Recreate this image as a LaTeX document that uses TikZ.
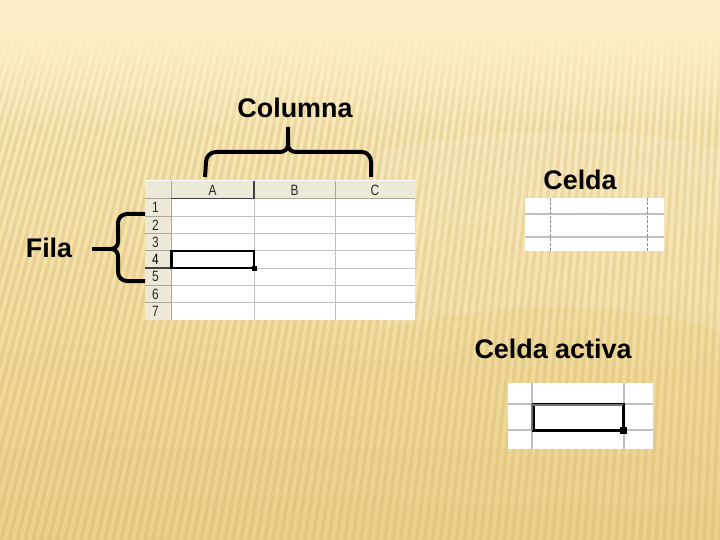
\documentclass[tikz,border=0pt]{standalone}
\usepackage{fontspec}
\setmainfont{Liberation Sans}
\definecolor{bgtop}{HTML}{FCF0C8}
\definecolor{bgmid}{HTML}{F6E2A8}
\definecolor{bgbot}{HTML}{ECD089}
\definecolor{stripec}{HTML}{D5B76A}
\definecolor{hdr}{HTML}{ECE9D8}
\definecolor{hdrline}{HTML}{ACA899}
\definecolor{gridc}{HTML}{C0C0C0}
\definecolor{txtc}{HTML}{2A2A2A}
\tikzset{
  lbl/.style={font=\fontsize{27}{30}\selectfont\bfseries, text=black, inner sep=0pt},
  hdrtxt/.style={font=\fontsize{15}{16}\selectfont, text=txtc, inner sep=0pt, xscale=0.8},
  bracepath/.style={line width=4bp, black, line cap=butt, line join=round},
  gridline/.style={gridc, line width=1bp},
  hline/.style={hdrline, line width=1bp},
  stripe/.style={stripec, line width=3.5bp, opacity=0.36}
}
\begin{document}
\begin{tikzpicture}[x=1bp, y=-1bp]
\useasboundingbox (0,0) rectangle (720,540);
% background
\shade[top color=bgtop, middle color=bgmid, bottom color=bgbot] (0,0) rectangle (720,540);
\begin{scope}
\clip (0,0) rectangle (720,540);
\foreach \i in {-20,...,100} {
  \draw[stripe] ({\i*8}, 545) -- ({\i*8*0.85+130}, 25);
}
\end{scope}
\fill[bgtop] (0,0) rectangle (720,30);
\foreach \k in {0,...,24} {
  \fill[bgtop, opacity={1-\k/25}] (0,{30+4*\k}) rectangle (720,{34+4*\k});
}
% soft lighter sweep on the right
\fill[white, opacity=0.10] (380,150) .. controls (520,120) and (650,130) .. (720,150) -- (720,330) .. controls (620,300) and (500,300) .. (380,330) -- cycle;

% ---------- spreadsheet ----------
\fill[white] (171,199) rectangle (415,320);
\fill[hdr] (145,180) rectangle (415,199);
\fill[hdr] (145,199) rectangle (171,320);
% grid lines in cells
\foreach \y in {216.3,233.6,250.9,268.1,285.4,302.7} {
  \draw[gridline] (171,\y) -- (415,\y);
  \draw[hline] (145,\y) -- (171,\y);
}
\foreach \x in {254,335} {
  \draw[gridline] (\x,199) -- (\x,320);
  \draw[hline] (\x,181) -- (\x,199);
}
\draw[hline] (171,181) -- (171,320);
\draw[hline] (145,199) -- (415,199);
\draw[white, line width=1bp] (145,180.5) -- (415,180.5);
% active column/row header marks
\draw[black!75, line width=1.6bp] (171,198.5) -- (254,198.5);
\draw[black!75, line width=1.2bp] (254,181) -- (254,199);
\draw[black!75, line width=1.6bp] (145,268.1) -- (171,268.1);
% header texts
\node[hdrtxt] (hA) at (212.5,190) {A};
\node[hdrtxt] (hB) at (294.5,190) {B};
\node[hdrtxt] (hC) at (375,190) {C};
\foreach \n/\y in {1/207.6,2/225,3/242.2,5/276.8,6/294,7/311.4} {
  \node[hdrtxt] (r\n) at (155.5,\y) {\n};
}
\node[hdrtxt, text=black] (r4) at (155.5,259.5) {4};
% active cell
\draw[black, line width=2.5bp] (171.5,251.2) rectangle (254,268.1);
\fill[black] (251.5,265.6) rectangle (256.5,270.6);

% ---------- labels ----------
\node[lbl] (columna) at (295,108) {Columna};
\node[lbl] (fila) at (49,248) {Fila};
\node[lbl] (celda) at (580,180) {Celda};
\node[lbl] (activa) at (553,349) {Celda activa};

% column brace
\coordinate (ctip) at (288,127);
\coordinate (cjoin) at (288,145);
\draw[bracepath] (ctip) -- (cjoin) to[out=-90,in=0] (280,152) -- (216,152) to[out=180,in=90] (206,162) -- (205,177);
\draw[bracepath] (cjoin) to[out=-90,in=180] (296,152) -- (362,152) to[out=0,in=90] (371,162) -- (371,177);

% row brace
\coordinate (ftip) at (111,249);
\coordinate (fdash) at (92,249);
\draw[bracepath] (145,214) -- (127,214) to[out=180,in=90] (118,223) -- (118,242) to[out=-90,in=0] (ftip) to[out=0,in=90] (118,256) -- (118,272) to[out=-90,in=180] (127,281) -- (145,281);
\draw[bracepath] (fdash) -- (ftip);

% ---------- Celda sample ----------
\fill[white] (525,198) rectangle (664,251);
\draw[gridc, line width=1.6bp] (525,214) -- (664,214);
\draw[gridc, line width=1.6bp] (525,237) -- (664,237);
\draw[black!45, line width=1bp, dash pattern=on 3bp off 1.5bp] (550,198) -- (550,251);
\draw[black!45, line width=1bp, dash pattern=on 3bp off 1.5bp] (647,198) -- (647,251);

% ---------- Celda activa sample ----------
\fill[white] (508,383) rectangle (653,449);
\draw[gridc, line width=1.6bp] (508,404) -- (653,404);
\draw[gridc, line width=1.6bp] (508,430) -- (653,430);
\draw[gridc, line width=1.2bp] (532,383) -- (532,449);
\draw[gridc, line width=1.2bp] (624,383) -- (624,449);
\draw[black, line width=3bp] (533,404) -- (533,430) -- (623,430) -- (623,404) -- cycle;
\draw[black!55, line width=2bp] (531.5,405) -- (623,405);
\draw[black!55, line width=2bp] (532,404) -- (532,430);
\fill[black] (619.5,426.5) rectangle (627,434);
\end{tikzpicture}
\end{document}
